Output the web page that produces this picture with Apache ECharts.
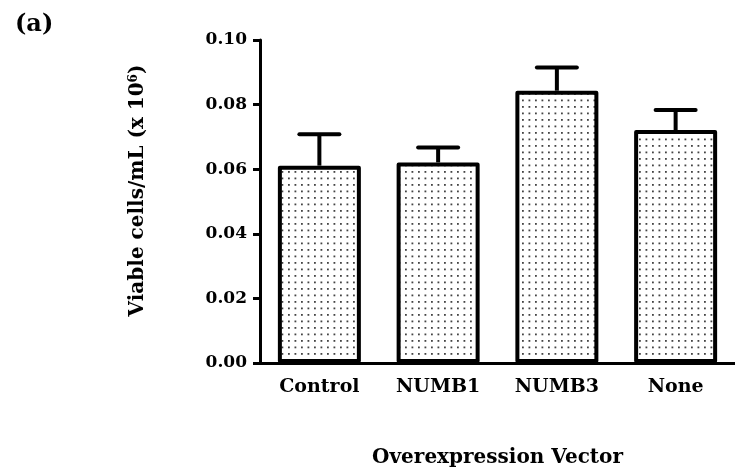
<!DOCTYPE html>
<html>
<head>
<meta charset="utf-8">
<script src="https://cdn.jsdelivr.net/npm/echarts@6/dist/echarts.min.js"></script>
<style>html,body{margin:0;padding:0;background:#fff}#c{width:735px;height:473px}</style>
</head>
<body>
<div id="c"></div>
<script>
const categories = ['Control', 'NUMB1', 'NUMB3', 'None'];
const means = [0.0611, 0.0621, 0.0843, 0.0721];
const errors = [0.0097, 0.0046, 0.0072, 0.0062];
const yTicks = ['0.00', '0.02', '0.04', '0.06', '0.08', '0.10'];

const FONT = 'DejaVu Serif';

// dotted fill pattern
const pc = document.createElement('canvas');
pc.width = 13; pc.height = 13;
const pctx = pc.getContext('2d');
pctx.fillStyle = '#fff';
pctx.fillRect(0, 0, 13, 13);
pctx.fillStyle = '#444';
[[2, 2], [8.5, 2], [2, 8.5], [8.5, 8.5]].forEach(p => pctx.fillRect(p[0], p[1], 1.8, 1.8));

const chart = echarts.init(document.getElementById('c'));
chart.setOption({
  animation: false,
  backgroundColor: '#fff',
  title: {
    text: '(a)', left: 10, top: 8,
    textStyle: { fontFamily: FONT, fontWeight: 'bold', fontSize: 24, color: '#000' }
  },
  grid: { left: 260, top: 40, width: 481, bottom: 110 },
  xAxis: {
    type: 'category',
    data: categories,
    name: 'Overexpression Vector',
    nameLocation: 'middle',
    nameGap: 85,
    nameTextStyle: { fontFamily: FONT, fontWeight: 'bold', fontSize: 20, color: '#000' },
    axisLine: { lineStyle: { color: '#000', width: 3 } },
    axisTick: { alignWithLabel: true, length: 7, lineStyle: { color: '#000', width: 3 } },
    axisLabel: { fontFamily: FONT, fontWeight: 'bold', fontSize: 19, color: '#000', margin: 15 }
  },
  yAxis: {
    type: 'value',
    min: 0, max: 0.1, interval: 0.02,
    name: 'Viable cells/mL (x 10{sup|6})',
    nameLocation: 'middle',
    nameGap: 112,
    nameRotate: 90,
    nameTextStyle: {
      fontFamily: FONT, fontWeight: 'bold', fontSize: 20, color: '#000',
      padding: [0, 0, 0, 22],
      rich: {
        sup: { fontFamily: FONT, fontWeight: 'bold', fontSize: 12, color: '#000', verticalAlign: 'top', padding: [0, 0, 8, 0] }
      }
    },
    axisLine: { show: true, lineStyle: { color: '#000', width: 3 } },
    axisTick: { show: true, length: 7, lineStyle: { color: '#000', width: 3 } },
    splitLine: { show: false },
    axisLabel: {
      fontFamily: FONT, fontWeight: 'bold', fontSize: 17, color: '#000', margin: 13,
      formatter: (v) => yTicks[Math.round(v / 0.02)]
    }
  },
  series: [
    {
      type: 'bar',
      data: means,
      barWidth: 83,
      itemStyle: {
        color: { image: pc, repeat: 'repeat' },
        borderColor: '#000',
        borderWidth: 4,
        borderJoin: 'round'
      },
      z: 3
    },
    {
      type: 'custom',
      data: categories.map((c, i) => [i, means[i], means[i] + errors[i]]),
      z: 2,
      renderItem: function (params, api) {
        const base = api.coord([api.value(0), api.value(1)]);
        const top = api.coord([api.value(0), api.value(2)]);
        return {
          type: 'group',
          children: [
            { type: 'line', shape: { x1: base[0], y1: base[1], x2: top[0], y2: top[1] }, style: { stroke: '#000', lineWidth: 4 } },
            { type: 'line', shape: { x1: top[0] - 20, y1: top[1], x2: top[0] + 20, y2: top[1] }, style: { stroke: '#000', lineWidth: 4, lineCap: 'round' } }
          ]
        };
      }
    }
  ]
});
</script>
</body>
</html>
